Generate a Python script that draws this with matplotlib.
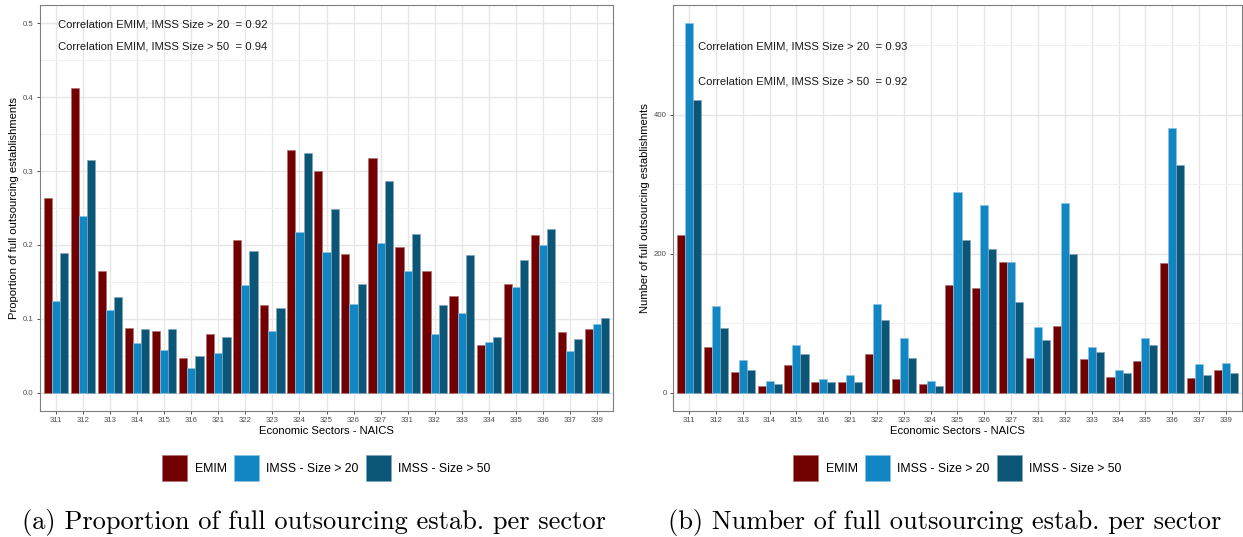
import numpy as np
import matplotlib
matplotlib.use("Agg")
import matplotlib.pyplot as plt
from matplotlib.patches import Patch

# NAICS manufacturing sectors
sectors = ["311", "312", "313", "314", "315", "316", "321", "322", "323", "324",
           "325", "326", "327", "331", "332", "333", "334", "335", "336", "337", "339"]

# Proportion of full outsourcing establishments per sector
prop_emim = [0.263, 0.412, 0.165, 0.088, 0.083, 0.047, 0.079, 0.207, 0.118, 0.329,
             0.300, 0.188, 0.318, 0.197, 0.164, 0.131, 0.064, 0.147, 0.213, 0.082, 0.086]
prop_imss20 = [0.124, 0.239, 0.112, 0.067, 0.057, 0.033, 0.053, 0.146, 0.084, 0.218,
               0.190, 0.120, 0.203, 0.164, 0.079, 0.108, 0.068, 0.143, 0.200, 0.056, 0.093]
prop_imss50 = [0.189, 0.315, 0.129, 0.086, 0.086, 0.050, 0.075, 0.192, 0.115, 0.324,
               0.249, 0.147, 0.286, 0.215, 0.118, 0.186, 0.075, 0.180, 0.222, 0.072, 0.101]

# Number of full outsourcing establishments per sector
num_emim = [226, 66, 29, 10, 39, 15, 15, 56, 19, 13,
            155, 151, 188, 50, 96, 49, 22, 46, 186, 21, 33]
num_imss20 = [531, 124, 47, 16, 69, 19, 26, 127, 78, 16,
              289, 270, 188, 94, 273, 65, 33, 78, 381, 41, 43]
num_imss50 = [421, 93, 33, 13, 55, 15, 15, 105, 50, 10,
              219, 207, 130, 75, 200, 59, 28, 69, 327, 26, 28]

series_names = ["EMIM", "IMSS - Size > 20", "IMSS - Size > 50"]
colors = ["#730000", "#1286C3", "#0B5677"]
edge_colors = ["#b07070", "#8cc4e3", "#7fa6bd"]

corr_prop = ["Correlation EMIM, IMSS Size > 20  = 0.92",
             "Correlation EMIM, IMSS Size > 50  = 0.94"]
corr_num = ["Correlation EMIM, IMSS Size > 20  = 0.93",
            "Correlation EMIM, IMSS Size > 50  = 0.92"]

SANS = "Liberation Sans"
GRAY_TXT = "#4d4d4d"

W, H = 1243, 537
fig = plt.figure(figsize=(W / 100, H / 100), dpi=100)


def px_axes(x0, y0, x1, y1):
    return fig.add_axes([x0 / W, 1 - y1 / H, (x1 - x0) / W, (y1 - y0) / H])


def draw_panel(ax, series, ylim, yticks, yminor, ytick_labels, ylabel, notes, note_x, note_y):
    x = np.arange(len(sectors))
    bw = 0.3
    for i, (vals, c, ec) in enumerate(zip(series, colors, edge_colors)):
        ax.bar(x + (i - 1) * bw, vals, width=bw, color=c, edgecolor=ec,
               linewidth=0.5, zorder=3)
    ax.set_xlim(-0.6, len(sectors) - 0.4)
    ax.set_ylim(*ylim)
    ax.set_xticks(x)
    ax.set_xticklabels(sectors)
    ax.set_yticks(yticks)
    ax.set_yticklabels(ytick_labels)
    ax.set_yticks(yminor, minor=True)
    ax.grid(True, which="major", color="#e6e6e6", linewidth=1.0, zorder=0)
    ax.grid(True, which="minor", axis="y", color="#f1f1f1", linewidth=0.7, zorder=0)
    ax.tick_params(axis="both", which="major", length=2.5, width=0.6, color="#333333",
                   labelsize=5.6, labelcolor=GRAY_TXT, pad=2)
    ax.tick_params(axis="y", which="minor", length=0)
    for t in ax.get_xticklabels() + ax.get_yticklabels():
        t.set_fontfamily(SANS)
    for s in ax.spines.values():
        s.set_color("#7f7f7f")
        s.set_linewidth(0.8)
    ax.set_xlabel("Economic Sectors - NAICS", fontfamily=SANS, fontsize=8.1,
                  color="black", labelpad=1)
    ax.set_ylabel(ylabel, fontfamily=SANS, fontsize=8.1, color="black", labelpad=3)
    for txt, ny in zip(notes, note_y):
        ax.text(note_x, ny, txt, fontfamily=SANS, fontsize=8.1, color="#1a1a1a",
                ha="left", va="center", zorder=5)


ax1 = px_axes(40, 5, 613, 411)
draw_panel(ax1, [prop_emim, prop_imss20, prop_imss50], (-0.025, 0.525),
           [0, 0.1, 0.2, 0.3, 0.4, 0.5], [0.05, 0.15, 0.25, 0.35, 0.45],
           ["0.0", "0.1", "0.2", "0.3", "0.4", "0.5"],
           "Proportion of full outsourcing establishments", corr_prop, 0.07, [0.498, 0.469])

ax2 = px_axes(673, 5, 1242, 411)
draw_panel(ax2, [num_emim, num_imss20, num_imss50], (-26.5, 557.6),
           [0, 200, 400], [100, 300, 500], ["0", "200", "400"],
           "Number of full outsourcing establishments", corr_num, 0.33, [498, 448])

handles = [Patch(facecolor=c, edgecolor=ec, linewidth=0.5, label=n)
           for c, ec, n in zip(colors, edge_colors, series_names)]
for ax in (ax1, ax2):
    bb = ax.get_position()
    cx = (bb.x0 + bb.x1) / 2
    fig.legend(handles=handles, loc="center", bbox_to_anchor=(cx, 1 - 468 / H), ncol=3,
               frameon=False, prop={"family": SANS, "size": 8.8},
               handlelength=2.05, handleheight=2.78, handletextpad=0.6, columnspacing=0.6,
               borderpad=0, borderaxespad=0)

fig.text(314 / W, 1 - 522 / H, "(a) Proportion of full outsourcing estab. per sector",
         fontfamily="cmr10", fontsize=19, ha="center", va="center")
fig.text(945 / W, 1 - 522 / H, "(b) Number of full outsourcing estab. per sector",
         fontfamily="cmr10", fontsize=19, ha="center", va="center")

fig.savefig("out.png", dpi=100, facecolor="white")
